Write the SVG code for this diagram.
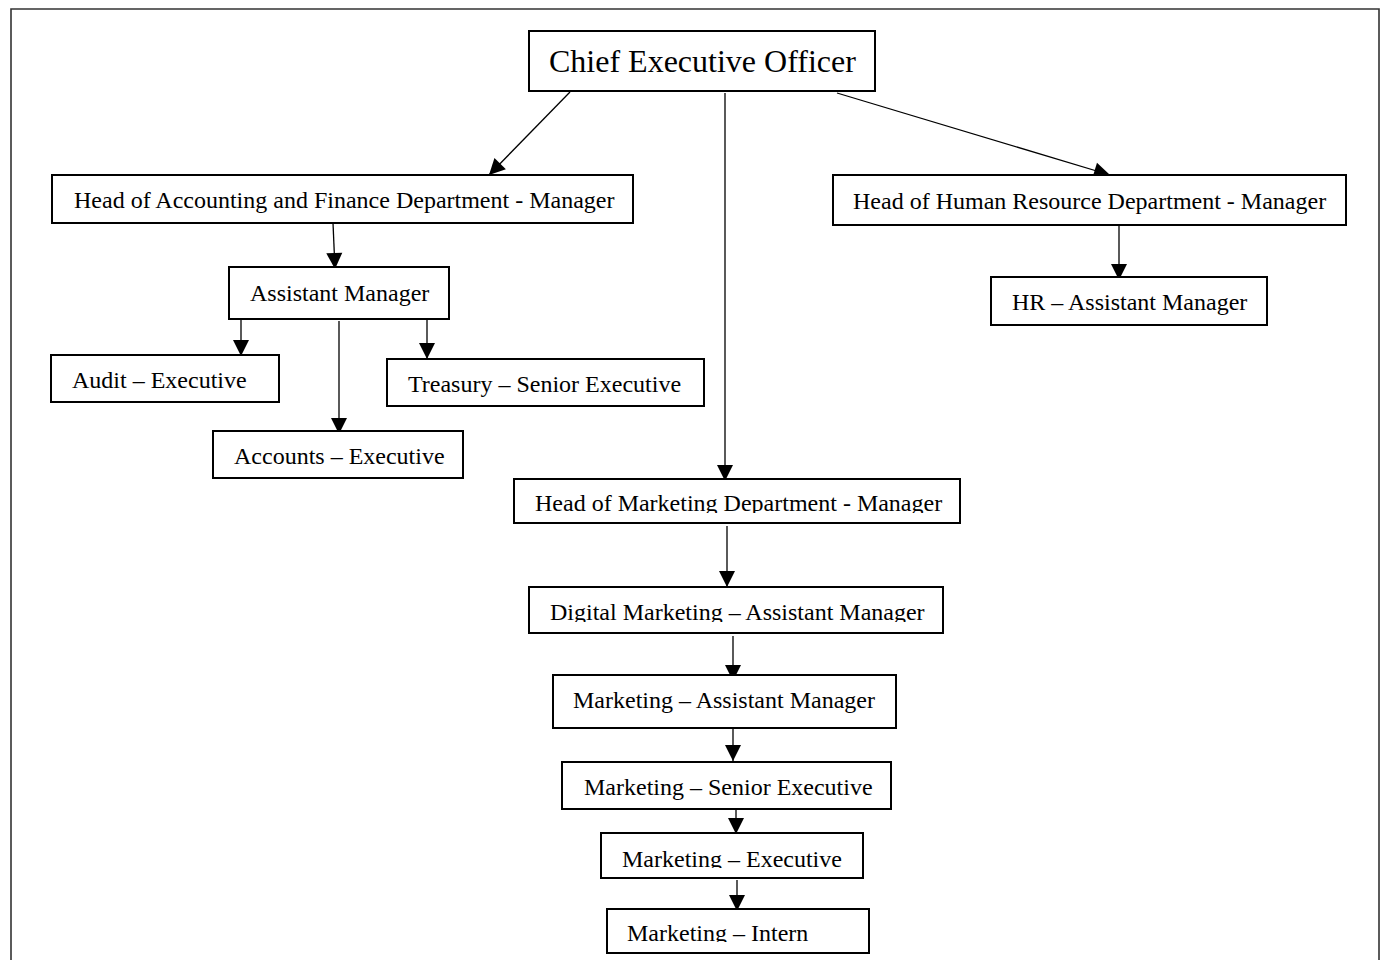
<svg xmlns="http://www.w3.org/2000/svg" width="1383" height="960" viewBox="0 0 1383 960">
<style>
.box{fill:#fff;stroke:#000;stroke-width:2}
.t{font-family:"Liberation Serif","Times New Roman",serif;font-size:24px;fill:#000}
.big{font-size:32px}
.c{stroke:#000;stroke-width:1.3;fill:none;marker-end:url(#ah)}
</style>
<defs>
<marker id="ah" markerUnits="userSpaceOnUse" markerWidth="18" markerHeight="18" refX="16" refY="8" orient="auto" overflow="visible">
<path d="M0,0 L16,8 L0,16 z" fill="#000"/>
</marker>
<clipPath id="clipMH"><rect x="514" y="479" width="446" height="34"/></clipPath>
<clipPath id="clipDM"><rect x="529" y="587" width="414" height="35"/></clipPath>
<clipPath id="clipME"><rect x="601" y="833" width="262" height="35"/></clipPath>
<clipPath id="clipMI"><rect x="607" y="909" width="262" height="33"/></clipPath>
</defs>
<rect width="1383" height="960" fill="#fff"/>
<path d="M11,962 L11,9 L1379,9 L1379,962" fill="none" stroke="#333" stroke-width="1.6"/>
<g id="connectors">
<line class="c" x1="570" y1="92" x2="489" y2="175"/>
<line class="c" x1="725" y1="93" x2="725" y2="481"/>
<line class="c" x1="837" y1="93" x2="1110" y2="175"/>
<line class="c" x1="333" y1="223" x2="335" y2="269"/>
<line class="c" x1="241" y1="320" x2="241" y2="356"/>
<line class="c" x1="339" y1="321" x2="339" y2="434"/>
<line class="c" x1="427" y1="320" x2="427" y2="359"/>
<line class="c" x1="1119" y1="226" x2="1119" y2="280"/>
<line class="c" x1="727" y1="526" x2="727" y2="587"/>
<line class="c" x1="733" y1="636" x2="733" y2="681"/>
<line class="c" x1="733" y1="728" x2="733" y2="761"/>
<line class="c" x1="736" y1="810" x2="736" y2="834"/>
<line class="c" x1="737" y1="880" x2="737" y2="911"/>
</g>
<g id="ceo"><rect class="box" x="529" y="31" width="346" height="60"/><text class="t big" x="549" y="72">Chief Executive Officer</text></g>
<g id="head-accounting"><rect class="box" x="52" y="175" width="581" height="48"/><text class="t" x="74" y="208">Head of Accounting and Finance Department - Manager</text></g>
<g id="head-hr"><rect class="box" x="833" y="175" width="513" height="50"/><text class="t" x="853" y="209">Head of Human Resource Department - Manager</text></g>
<g id="assistant-manager"><rect class="box" x="229" y="267" width="220" height="52"/><text class="t" x="250" y="301">Assistant Manager</text></g>
<g id="audit"><rect class="box" x="51" y="355" width="228" height="47"/><text class="t" x="72" y="388">Audit – Executive</text></g>
<g id="treasury"><rect class="box" x="387" y="359" width="317" height="47"/><text class="t" x="408" y="392">Treasury – Senior Executive</text></g>
<g id="accounts"><rect class="box" x="213" y="431" width="250" height="47"/><text class="t" x="234" y="464">Accounts – Executive</text></g>
<g id="hr-assistant"><rect class="box" x="991" y="277" width="276" height="48"/><text class="t" x="1012" y="310">HR – Assistant Manager</text></g>
<g id="head-marketing"><rect class="box" x="514" y="479" width="446" height="44"/><text class="t" x="535" y="511" clip-path="url(#clipMH)">Head of Marketing Department - Manager</text></g>
<g id="digital-marketing"><rect class="box" x="529" y="587" width="414" height="46"/><text class="t" x="550" y="620" clip-path="url(#clipDM)">Digital Marketing – Assistant Manager</text></g>
<g id="marketing-assistant"><rect class="box" x="553" y="675" width="343" height="53"/><text class="t" x="573" y="708">Marketing – Assistant Manager</text></g>
<g id="marketing-senior"><rect class="box" x="562" y="762" width="329" height="47"/><text class="t" x="584" y="795">Marketing – Senior Executive</text></g>
<g id="marketing-executive"><rect class="box" x="601" y="833" width="262" height="45"/><text class="t" x="622" y="867" clip-path="url(#clipME)">Marketing – Executive</text></g>
<g id="marketing-intern"><rect class="box" x="607" y="909" width="262" height="44"/><text class="t" x="627" y="941" clip-path="url(#clipMI)">Marketing – Intern</text></g>
</svg>
